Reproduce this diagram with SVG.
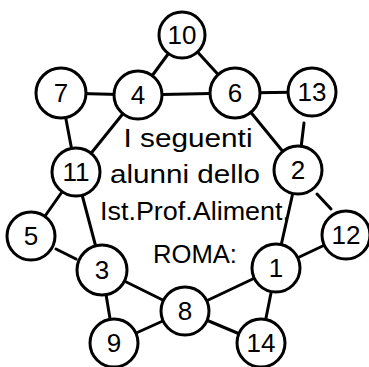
<svg xmlns="http://www.w3.org/2000/svg" width="369" height="367" viewBox="0 0 369 367">
<style>
.e line{stroke:#000;stroke-width:3;stroke-linecap:round}
.n circle{fill:#fff;stroke:#000;stroke-width:3}
.n text{font-family:"Liberation Sans",Arial,sans-serif;font-size:26px;text-anchor:middle;fill:#000}
.t{font-family:"Liberation Sans",Arial,sans-serif;font-size:25px;text-anchor:middle;fill:#000}
</style>
<rect width="369" height="367" fill="#fff"/>
<g id="connectors" class="e">
<line x1="182" y1="35" x2="138" y2="95"/>
<line x1="182" y1="35" x2="235" y2="93"/>
<line x1="61" y1="93" x2="138" y2="95"/>
<line x1="138" y1="95" x2="235" y2="93"/>
<line x1="235" y1="93" x2="312" y2="92"/>
<line x1="61" y1="93" x2="76" y2="172"/>
<line x1="138" y1="95" x2="76" y2="172"/>
<line x1="235" y1="93" x2="298" y2="170"/>
<line x1="304" y1="123" x2="301" y2="148"/>
<line x1="76" y1="172" x2="31" y2="236"/>
<line x1="76" y1="172" x2="102" y2="270"/>
<line x1="56" y1="249" x2="76" y2="259"/>
<line x1="317" y1="194" x2="331" y2="209"/>
<line x1="298" y1="170" x2="276" y2="268"/>
<line x1="276" y1="268" x2="346" y2="235"/>
<line x1="102" y1="270" x2="185" y2="311"/>
<line x1="102" y1="270" x2="114" y2="343"/>
<line x1="114" y1="343" x2="185" y2="311"/>
<line x1="185" y1="311" x2="276" y2="268"/>
<line x1="185" y1="311" x2="261" y2="343"/>
<line x1="276" y1="268" x2="261" y2="343"/>
</g>
<g id="n10" class="n"><circle cx="182" cy="35" r="23"/><text x="182" y="44">10</text></g>
<g id="n7" class="n"><circle cx="61" cy="93" r="25"/><text x="61" y="102">7</text></g>
<g id="n4" class="n"><circle cx="138" cy="95" r="24"/><text x="138" y="104">4</text></g>
<g id="n6" class="n"><circle cx="235" cy="93" r="25"/><text x="235" y="102">6</text></g>
<g id="n13" class="n"><circle cx="312" cy="92" r="24"/><text x="312" y="101">13</text></g>
<g id="n11" class="n"><circle cx="76" cy="172" r="24"/><text x="76" y="181">11</text></g>
<g id="n2" class="n"><circle cx="298" cy="170" r="24"/><text x="298" y="179">2</text></g>
<g id="n5" class="n"><circle cx="31" cy="236" r="24"/><text x="31" y="245">5</text></g>
<g id="n12" class="n"><circle cx="346" cy="235" r="24"/><text x="346" y="244">12</text></g>
<g id="n3" class="n"><circle cx="102" cy="270" r="25"/><text x="102" y="279">3</text></g>
<g id="n1" class="n"><circle cx="276" cy="268" r="24"/><text x="276" y="277">1</text></g>
<g id="n8" class="n"><circle cx="185" cy="311" r="24"/><text x="185" y="320">8</text></g>
<g id="n9" class="n"><circle cx="114" cy="343" r="24"/><text x="114" y="352">9</text></g>
<g id="n14" class="n"><circle cx="261" cy="343" r="24"/><text x="261" y="352">14</text></g>
<g id="label">
<text class="t" x="188" y="147" textLength="129" lengthAdjust="spacingAndGlyphs">I seguenti</text>
<text class="t" x="185" y="183" textLength="150" lengthAdjust="spacingAndGlyphs">alunni dello</text>
<text class="t" x="195" y="220" textLength="190" lengthAdjust="spacingAndGlyphs">Ist.Prof.Aliment.</text>
<text class="t" x="195" y="263" textLength="84" lengthAdjust="spacingAndGlyphs">ROMA:</text>
</g>
</svg>
